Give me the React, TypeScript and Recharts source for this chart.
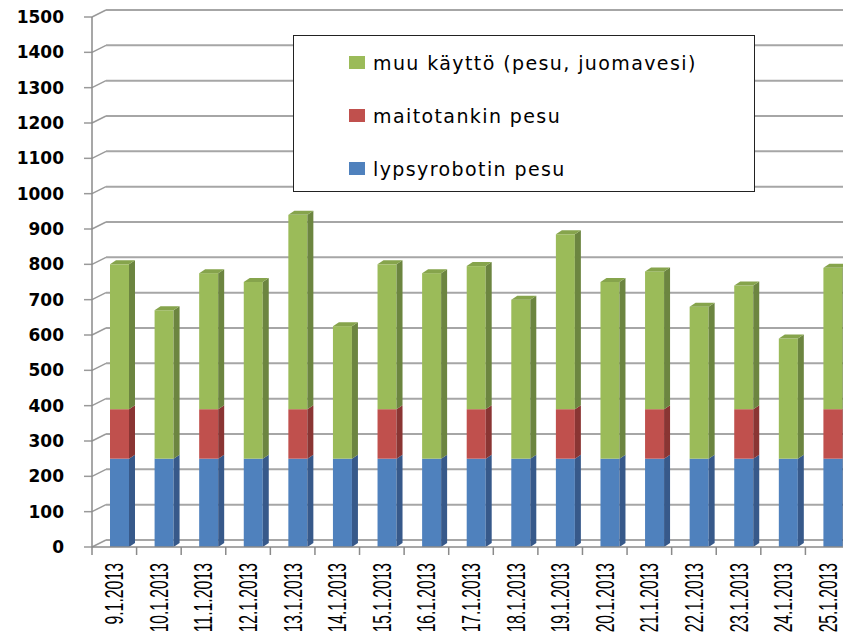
import { Bar, BarChart, CartesianGrid, XAxis, YAxis } from 'recharts';

const dates = [
  '9.1.2013', '10.1.2013', '11.1.2013', '12.1.2013', '13.1.2013', '14.1.2013',
  '15.1.2013', '16.1.2013', '17.1.2013', '18.1.2013', '19.1.2013', '20.1.2013',
  '21.1.2013', '22.1.2013', '23.1.2013', '24.1.2013', '25.1.2013',
];
const robotWash = [250, 250, 250, 250, 250, 250, 250, 250, 250, 250, 250, 250, 250, 250, 250, 250, 250];
const tankWash = [140, 0, 140, 0, 140, 0, 140, 0, 140, 0, 140, 0, 140, 0, 140, 0, 140];
const otherUse = [410, 420, 385, 500, 550, 375, 410, 525, 405, 450, 495, 500, 390, 430, 350, 340, 400];
const yTicks = [0, 100, 200, 300, 400, 500, 600, 700, 800, 900, 1000, 1100, 1200, 1300, 1400, 1500];

const SERIES = [
  { key: 'muu', name: 'muu käyttö (pesu, juomavesi)', color: '#9BBB59' },
  { key: 'tank', name: 'maitotankin pesu', color: '#C0504D' },
  { key: 'robot', name: 'lypsyrobotin pesu', color: '#4F81BD' },
];
const SIDE: Record<string, string> = { '#4F81BD': '#37598A', '#C0504D': '#8A3533', '#9BBB59': '#6C8540' };

const data = dates.map((date, i) => ({
  date,
  robot: robotWash[i],
  tank: tankWash[i],
  muu: otherUse[i],
}));

const DX = 6;
const DY = 4;

// fake 3D column: front face, right side, optional top
function Column(props: any, withTop: boolean) {
  const { x, y, width, height, fill } = props;
  if (!height || height <= 0) return <g />;
  const fx = x + 5;
  const side = SIDE[fill] || fill;
  return (
    <g>
      <rect x={fx} y={y} width={width} height={height} fill={fill} />
      <polygon
        points={`${fx + width},${y} ${fx + width + DX},${y - DY} ${fx + width + DX},${y + height - DY} ${fx + width},${y + height}`}
        fill={side}
      />
      {withTop && (
        <polygon
          points={`${fx},${y} ${fx + DX},${y - DY} ${fx + width + DX},${y - DY} ${fx + width},${y}`}
          fill="#86A44C"
        />
      )}
    </g>
  );
}

function GridLine(props: any) {
  const { x1, y1, x2 } = props;
  return (
    <g key={`g-${y1}`}>
      <line x1={x1 - 8} y1={y1} x2={x1} y2={y1} stroke="#9a9a9a" strokeWidth={1.5} />
      <line x1={x1} y1={y1} x2={x1 + 14} y2={y1 - 7} stroke="#9a9a9a" strokeWidth={1.5} />
      <line x1={x1 + 14} y1={y1 - 7} x2={x2} y2={y1 - 7} stroke="#a6a6a6" strokeWidth={2} />
    </g>
  );
}

const BAND = 758 / 17;

function DateTick(props: any) {
  const { x, y, payload } = props;
  const label = String(payload.value);
  return (
    <g>
      <line x1={x - BAND / 2} y1={y} x2={x - BAND / 2} y2={y + 8} stroke="#8a8a8a" strokeWidth={1.5} />
      <text
        transform={`translate(${x},${y + 16}) rotate(-90)`}
        textAnchor="end"
        dominantBaseline="central"
        fontFamily="'Liberation Sans', sans-serif"
        fontSize={25}
        textLength={label.length * 7.7}
        lengthAdjust="spacingAndGlyphs"
        fill="#000"
      >
        {label}
      </text>
    </g>
  );
}

function LegendBox() {
  return (
    <div
      style={{
        position: 'absolute',
        left: 293,
        top: 35,
        width: 462,
        height: 157,
        border: '1.5px solid #222',
        background: '#fff',
        boxSizing: 'border-box',
        fontFamily: "'DejaVu Sans', sans-serif",
        fontSize: 19,
        color: '#000',
      }}
    >
      {SERIES.map((s) => (
        <div key={s.key} style={{ display: 'flex', alignItems: 'center', height: 53, paddingLeft: 55 }}>
          <span style={{ display: 'inline-block', width: 16, height: 13, background: s.color, marginRight: 8, flexShrink: 0 }} />
          <span style={{ letterSpacing: 1.4, whiteSpace: 'nowrap' }}>{s.name}</span>
        </div>
      ))}
    </div>
  );
}

export default function App() {
  return (
    <div style={{ position: 'absolute', left: 0, top: 0, width: 843, height: 635, overflow: 'hidden', background: '#fff' }}>
      <BarChart width={850} height={635} data={data} margin={{ top: 17, right: 0, bottom: 0, left: 0 }} barSize={19}>
        <CartesianGrid vertical={false} horizontal={(p: any) => <GridLine {...p} />} />
        <XAxis
          dataKey="date"
          height={88}
          interval={0}
          tickLine={false}
          tickSize={0}
          tickMargin={0}
          axisLine={{ stroke: '#8a8a8a', strokeWidth: 1.5 }}
          tick={<DateTick />}
        />
        <YAxis
          width={92}
          domain={[0, 1500]}
          ticks={yTicks}
          interval={0}
          tickSize={8}
          tickMargin={20}
          tickLine={false}
          axisLine={{ stroke: '#8a8a8a', strokeWidth: 1.5 }}
          tick={{ fill: '#000', fontSize: 17, fontWeight: 'bold', fontFamily: "'DejaVu Sans', sans-serif" }}
        />
        <Bar dataKey="robot" stackId="a" fill="#4F81BD" isAnimationActive={false} shape={(p: any) => Column(p, false)} />
        <Bar dataKey="tank" stackId="a" fill="#C0504D" isAnimationActive={false} shape={(p: any) => Column(p, false)} />
        <Bar dataKey="muu" stackId="a" fill="#9BBB59" isAnimationActive={false} shape={(p: any) => Column(p, true)} />
      </BarChart>
      <LegendBox />
    </div>
  );
}
